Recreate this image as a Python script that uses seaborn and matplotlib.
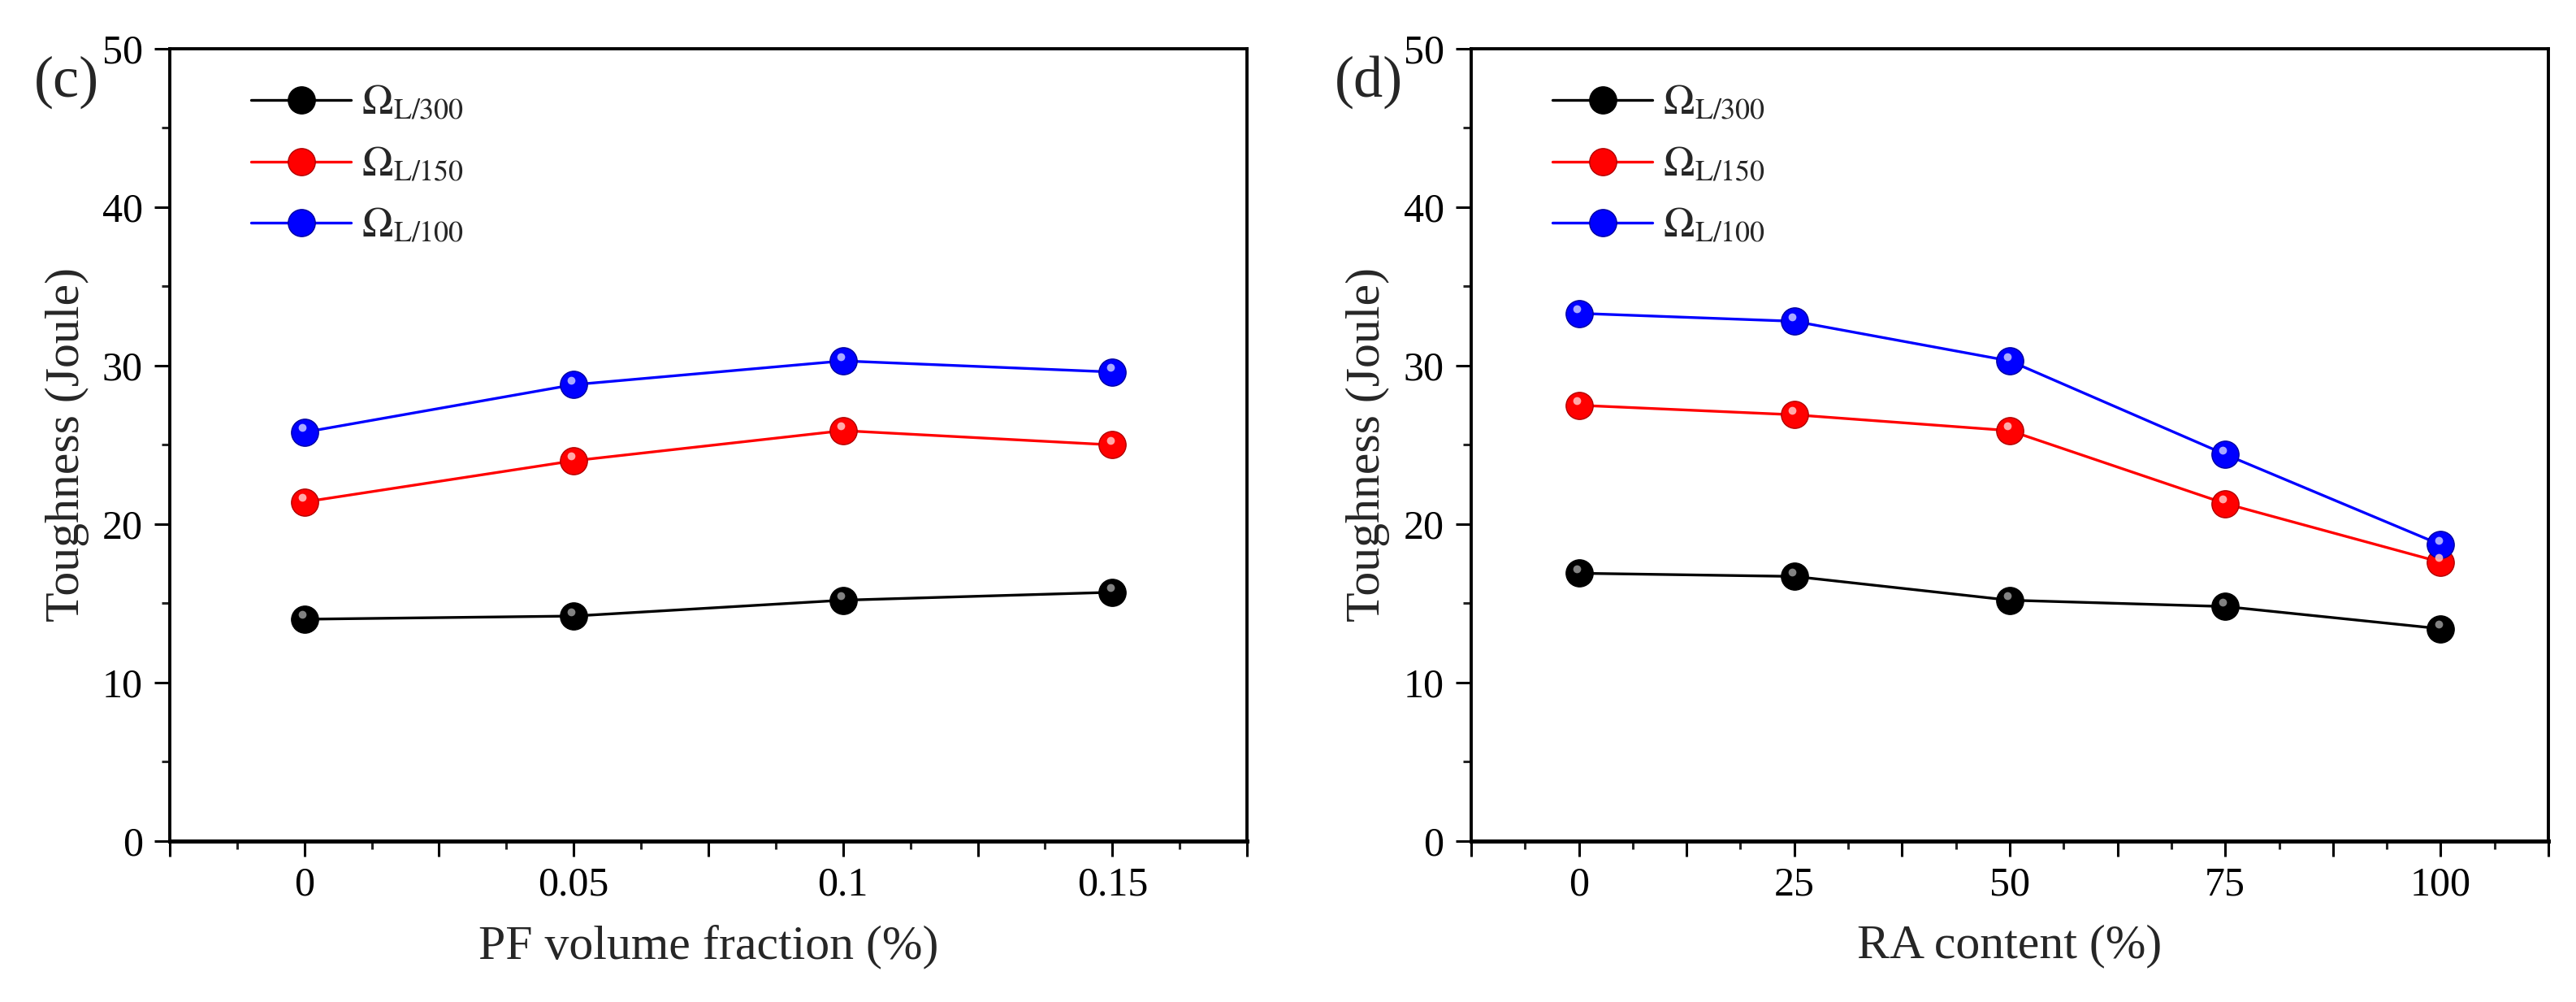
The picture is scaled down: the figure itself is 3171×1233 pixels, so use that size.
import numpy as np
import pandas as pd
import seaborn as sns
import matplotlib.pyplot as plt
import matplotlib.transforms as mtransforms
from matplotlib.ticker import MultipleLocator, FixedLocator, FixedFormatter

# data
pf_fraction = [0, 0.05, 0.1, 0.15]
pf_L300 = [14.0, 14.2, 15.2, 15.7]
pf_L150 = [21.4, 24.0, 25.9, 25.0]
pf_L100 = [25.8, 28.8, 30.3, 29.6]

ra_content = [0, 25, 50, 75, 100]
ra_L300 = [16.9, 16.7, 15.2, 14.8, 13.4]
ra_L150 = [27.5, 26.9, 25.9, 21.3, 17.6]
ra_L100 = [33.3, 32.8, 30.3, 24.4, 18.7]

series_names = [r"$\Omega_{\mathrm{L/300}}$", r"$\Omega_{\mathrm{L/150}}$", r"$\Omega_{\mathrm{L/100}}$"]
series_colors = ["#000000", "#ff0000", "#0000ff"]
edge_colors = ["#000000", "#b00000", "#0000a0"]
glint_colors = ["#9a9a9a", "#ffc8c8", "#c8c8ff"]

pf_ticks = [-0.025, 0, 0.025, 0.05, 0.075, 0.1, 0.125, 0.15, 0.175]
pf_labels = ["", "0", "", "0.05", "", "0.1", "", "0.15", ""]
ra_ticks = [-12.5, 0, 12.5, 25, 37.5, 50, 62.5, 75, 87.5, 100, 112.5]
ra_labels = ["", "0", "", "25", "", "50", "", "75", "", "100", ""]

sns.set_style("ticks")
plt.rcParams["font.family"] = ["Liberation Serif", "DejaVu Serif"]
plt.rcParams["mathtext.fontset"] = "stix"

fig = plt.figure(figsize=(31.71, 12.33), dpi=100)
ax1 = fig.add_axes([0.0659, 0.1606, 0.4182, 0.7908])
ax2 = fig.add_axes([0.5711, 0.1606, 0.4182, 0.7908])


def draw_panel(ax, x, ys, xlim, ticks, labels, minor, xlabel, tag, tag_x):
    for y, name, c, ec, gc in zip(ys, series_names, series_colors, edge_colors, glint_colors):
        df = pd.DataFrame({"x": x, "y": y})
        sns.lineplot(data=df, x="x", y="y", ax=ax, color=c, linewidth=2.4,
                     marker="o", markersize=24, markeredgecolor=ec,
                     markeredgewidth=1.0, label=name, zorder=3)
        # small glint so the markers look like balls
        glint = mtransforms.offset_copy(ax.transData, fig=fig, x=-2, y=4, units="points")
        ax.plot(x, y, linestyle="none", marker="o", markersize=7,
                color=gc, alpha=0.85, transform=glint, zorder=4,
                markeredgewidth=0)

    ax.set_xlim(*xlim)
    ax.set_ylim(0, 50)
    ax.xaxis.set_major_locator(FixedLocator(ticks))
    ax.xaxis.set_major_formatter(FixedFormatter(labels))
    ax.xaxis.set_minor_locator(MultipleLocator(minor))
    ax.yaxis.set_major_locator(MultipleLocator(10))
    ax.yaxis.set_minor_locator(MultipleLocator(5))

    ax.tick_params(axis="both", which="major", direction="out", length=14,
                   width=2.2, labelsize=36, colors="black")
    ax.tick_params(axis="both", which="minor", direction="out", length=7, width=2.2)
    ax.tick_params(axis="x", which="major", pad=8)
    ax.tick_params(axis="y", which="major", pad=10)
    for side in ["top", "right", "left", "bottom"]:
        ax.spines[side].set_visible(True)
        ax.spines[side].set_linewidth(2.8)
        ax.spines[side].set_color("black")
    ax.spines["bottom"].set_linewidth(3.6)

    ax.set_xlabel(xlabel, fontsize=43)
    ax.set_ylabel("Toughness (Joule)", fontsize=43)
    ax.xaxis.set_label_coords(0.5, -0.105)
    ax.yaxis.set_label_coords(-0.075, 0.5)

    ax.legend(loc="upper left", bbox_to_anchor=(0.06, 0.975), frameon=False,
              fontsize=37, handlelength=2.4, handletextpad=0.25,
              labelspacing=0.55, borderaxespad=0)

    fig.text(tag_x, 0.918, tag, fontsize=52, ha="right", va="center")


draw_panel(ax1, pf_fraction, [pf_L300, pf_L150, pf_L100], (-0.025, 0.175),
           pf_ticks, pf_labels, 0.0125, "PF volume fraction (%)", "(c)", 0.0385)
draw_panel(ax2, ra_content, [ra_L300, ra_L150, ra_L100], (-12.5, 112.5),
           ra_ticks, ra_labels, 6.25, "RA content (%)", "(d)", 0.5446)

fig.savefig("out.png", dpi=100)
plt.close(fig)
